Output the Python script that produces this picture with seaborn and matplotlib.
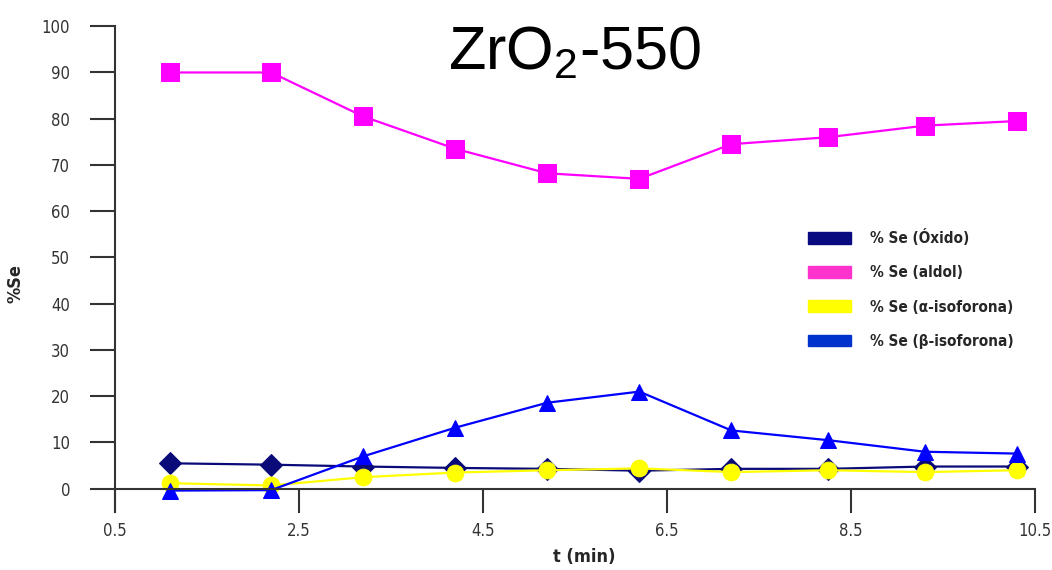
import matplotlib
matplotlib.use("Agg")
import matplotlib.pyplot as plt
from matplotlib.patches import Patch
import pandas as pd
import seaborn as sns

# sampling times (min) and %Se per product
t_min = [1.1, 2.2, 3.2, 4.2, 5.2, 6.2, 7.2, 8.25, 9.3, 10.3]
se_oxido = [5.5, 5.2, 4.8, 4.5, 4.3, 3.9, 4.3, 4.3, 4.8, 4.8]
se_aldol = [90.0, 90.0, 80.5, 73.5, 68.2, 67.0, 74.5, 76.0, 78.5, 79.5]
se_alfa = [1.2, 0.7, 2.5, 3.5, 4.0, 4.4, 3.6, 4.0, 3.6, 4.0]
se_beta = [-0.4, -0.3, 7.0, 13.2, 18.6, 21.0, 12.6, 10.5, 8.0, 7.6]

labels = ["% Se (Óxido)", "% Se (aldol)", "% Se (\u03b1-isoforona)", "% Se (\u03b2-isoforona)"]
line_colors = ["#0a0a78", "#ff00ff", "#ffff00", "#0000ff"]
legend_colors = ["#0a0a80", "#ff33cc", "#ffff00", "#0033cc"]
markers = ["D", "s", "o", "^"]
x_ticks = [0.5, 2.5, 4.5, 6.5, 8.5, 10.5]
y_ticks = list(range(0, 101, 10))

df = pd.concat([
    pd.DataFrame({"t": t_min, "se": vals, "serie": lab})
    for vals, lab in zip([se_oxido, se_aldol, se_alfa, se_beta], labels)
])

sns.set_style("ticks")
plt.rcParams["font.family"] = ["DejaVu Sans"]
plt.rcParams["font.stretch"] = "condensed"
# subscript of the title in the same face as the title
plt.rcParams["mathtext.fontset"] = "custom"
plt.rcParams["mathtext.rm"] = "Liberation Sans"

fig = plt.figure(figsize=(10.52, 5.70), dpi=100)
ax = fig.add_axes([0.109, 0.102, 0.875, 0.852])

sizes = {"D": 11, "s": 13, "o": 12, "^": 12}
for lab, col, mk in zip(labels, line_colors, markers):
    sub = df[df["serie"] == lab]
    sns.lineplot(data=sub, x="t", y="se", color=col, marker=mk,
                 markersize=sizes[mk], markeredgecolor=col, linewidth=1.6,
                 ax=ax, legend=False)

ax.set_xlim(0.5, 10.5)
ax.set_ylim(-5, 100)
ax.set_xticks(x_ticks)
ax.set_xticklabels([str(v) for v in x_ticks])
ax.set_yticks(y_ticks)
ax.spines[["top", "right"]].set_visible(False)
ax.spines["bottom"].set_position(("data", 0))
ax.spines["left"].set_bounds(-5, 100)
for s in ["left", "bottom"]:
    ax.spines[s].set_color("#333333")
    ax.spines[s].set_linewidth(1.5)
ax.tick_params(axis="y", direction="out", length=18, width=1.5,
               colors="#333333", labelsize=12, pad=14)
ax.tick_params(axis="x", direction="out", length=17, width=1.5,
               colors="#333333", labelsize=12, pad=7)

ax.set_xlabel("t (min)", fontsize=13, fontweight="bold")
ax.set_ylabel("%Se", fontsize=13, fontweight="bold")
ax.xaxis.set_label_coords(0.51, -0.075)
ax.yaxis.set_label_coords(-0.098, 0.47)

ax.text(0.50, 0.943, "ZrO$_\\mathrm{2}$-550", transform=ax.transAxes, ha="center",
        va="center", fontsize=44, color="black",
        family="Liberation Sans", stretch="normal")

handles = [Patch(facecolor=c, edgecolor=c) for c in legend_colors]
ax.legend(handles, labels, loc="upper left", bbox_to_anchor=(0.738, 0.61),
          frameon=False, handlelength=2.8, handleheight=0.8, handletextpad=1.3,
          labelspacing=1.25, prop={"weight": "bold", "size": 11})

plt.savefig("out.png", dpi=100)
plt.close()
